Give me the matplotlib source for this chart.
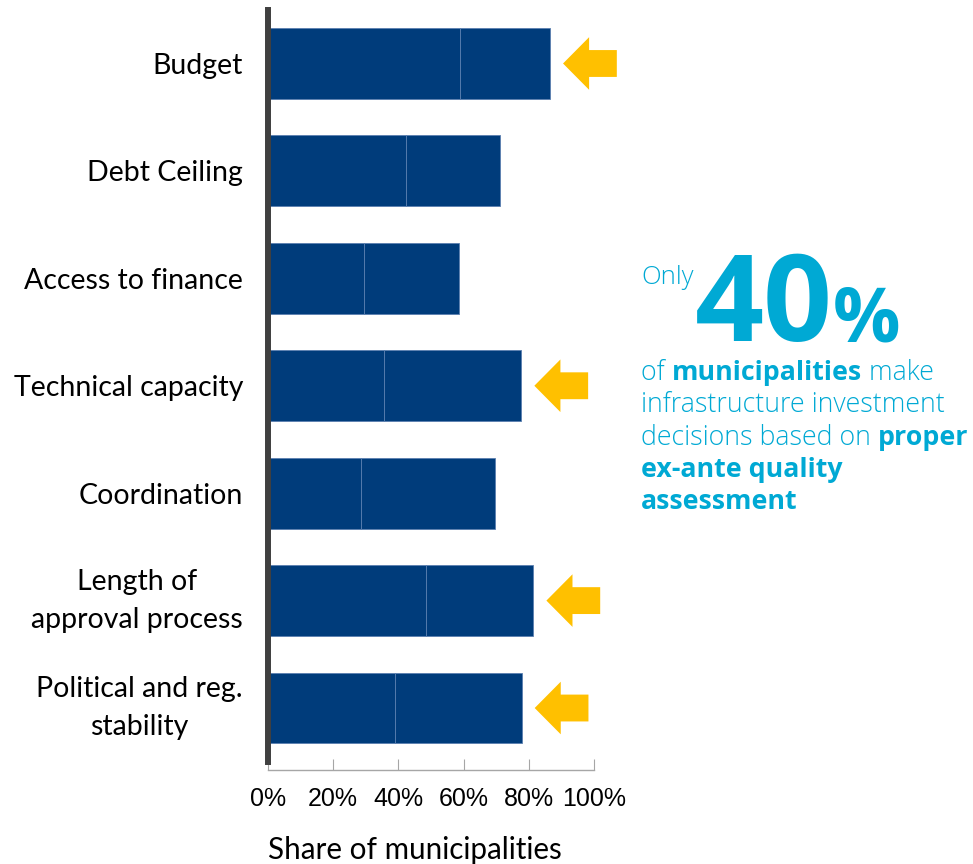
import numpy as np
import matplotlib
matplotlib.use('Agg')
import matplotlib.pyplot as plt
from matplotlib.patches import FancyArrow
from matplotlib.transforms import ScaledTranslation

# obstacles to infrastructure investment, share of municipalities (%)
categories = ['Budget', 'Debt Ceiling', 'Access to finance', 'Technical capacity',
              'Coordination', 'Length of\napproval process', 'Political and reg.\nstability']
first_part = [58.9, 42.4, 29.5, 35.7, 28.6, 48.6, 39.0]
second_part = [27.6, 28.8, 29.0, 42.0, 40.9, 32.8, 38.8]
flagged = [True, False, False, True, False, True, True]
tick_values = [0, 20, 40, 60, 80, 100]
tick_labels = ['0%', '20%', '40%', '60%', '80%', '100%']

bar_color = '#003C7B'
edge_color = '#5A7FB0'
arrow_color = '#FFC000'
cyan = '#00A9D4'

W, H = 973, 864
fig = plt.figure(figsize=(W / 100, H / 100), dpi=100)
ax = fig.add_axes([268 / W, 1 - 770 / H, 326 / W, 760 / H])

y = np.arange(len(categories))
ax.barh(y, first_part, height=0.66, color=bar_color, edgecolor=edge_color, linewidth=0.6)
totals = np.array(first_part) + np.array(second_part)
ax.barh(y, second_part, left=first_part, height=0.66, color=bar_color,
        edgecolor=edge_color, linewidth=0.6)

# yellow arrows pointing at the highlighted bars
for yi, total, flag in zip(y, totals, flagged):
    if flag:
        tail = total + 4 + 16.5
        ax.add_patch(FancyArrow(tail, yi, -16.5, 0, width=0.25, head_width=0.49,
                                head_length=8, length_includes_head=True,
                                color=arrow_color, lw=0, clip_on=False))

ax.set_xlim(0, 100)
ax.set_ylim(6.577, -0.498)
ax.set_xticks(tick_values)
ax.set_xticklabels(tick_labels, fontsize=18, family='Liberation Sans')
ax.set_yticks(y)
ax.set_yticklabels(categories, fontsize=20.5, family='Lato', multialignment='center',
                   linespacing=1.58)
ax.tick_params(axis='y', length=0, pad=18)
ax.tick_params(axis='x', direction='in', length=8, color='#A6A6A6', pad=12)
# two-line labels sit a little high
for lab in ax.get_yticklabels():
    if '\n' in lab.get_text():
        lab.set_transform(lab.get_transform() + ScaledTranslation(0, 6 / 72, fig.dpi_scale_trans))
ax.set_xlabel('Share of municipalities', fontsize=21.3, family='Lato')
ax.xaxis.set_label_coords(0.451, -0.087)

for s in ['top', 'right']:
    ax.spines[s].set_visible(False)
ax.spines['left'].set_linewidth(4.3)
ax.spines['left'].set_color('#404040')
ax.spines['left'].set_bounds(-0.498, 6.50)
ax.spines['bottom'].set_color('#A6A6A6')
ax.spines['bottom'].set_linewidth(1)

# callout text on the right, laid out piece by piece
renderer = fig.canvas.get_renderer()


def put(x_px, base_px, s, **kw):
    t = fig.text(x_px / W, 1 - base_px / H, s, color=cyan, va='baseline', ha='left', **kw)
    bb = t.get_window_extent(renderer)
    return bb.x1


def run(x_px, base_px, pieces, size=19.3):
    for s, weight in pieces:
        x_px = put(x_px, base_px, s, family='Open Sans', fontsize=size, fontweight=weight)
    return x_px


put(641, 284, 'Only', family='Open Sans', fontsize=18.5, fontweight='light')
x_end = put(695, 341, '40', family='Open Sans', fontsize=87, fontweight='bold')
put(x_end, 341, '%', family='Open Sans', fontsize=54, fontweight='bold')

lines = [
    [('of ', 'light'), ('municipalities', 'bold'), (' make', 'light')],
    [('infrastructure investment', 'light')],
    [('decisions based on ', 'light'), ('proper', 'bold')],
    [('ex-ante quality', 'bold')],
    [('assessment', 'bold')],
]
for i, pieces in enumerate(lines):
    run(641, 380 + 32.3 * i, pieces)

fig.savefig('out.png', dpi=100)
